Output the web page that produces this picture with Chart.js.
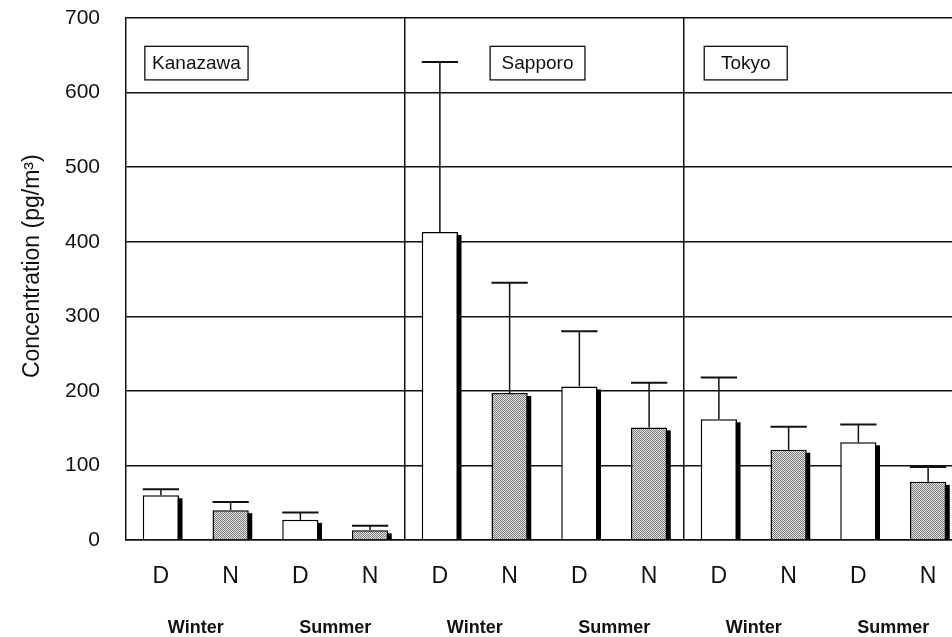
<!DOCTYPE html>
<html>
<head>
<meta charset="utf-8">
<title>Concentration by site, season and time of day</title>
<script src="https://cdn.jsdelivr.net/npm/chart.js@4/dist/chart.umd.min.js"></script>
<style>
  html, body { margin: 0; padding: 0; background: #fff; overflow: hidden; }
  #wrap { width: 952px; height: 637px; overflow: hidden; }
  canvas { display: block; }
</style>
</head>
<body>
<div id="wrap"><canvas id="chart" width="972" height="637"></canvas></div>
<script>
// Day (D) / night (N) samples, winter and summer, at three sites
const periods = ['D', 'N', 'D', 'N', 'D', 'N', 'D', 'N', 'D', 'N', 'D', 'N'];
const seasons = ['Winter', 'Summer', 'Winter', 'Summer', 'Winter', 'Summer'];
const sites = ['Kanazawa', 'Sapporo', 'Tokyo'];
// mean concentration (pg/m3)
const means = [60, 40, 27, 13, 413, 197, 206, 151, 162, 121, 131, 78];
// mean + standard deviation (top of the whisker)
const upper = [68, 51, 37, 19, 641, 345, 280, 211, 218, 152, 155, 98];
const yTicks = [0, 100, 200, 300, 400, 500, 600, 700];

const FONT = '"Liberation Sans", Arial, Helvetica, sans-serif';
const INK = '#111';

// halftone fill for the night bars
function halftone() {
  const c = document.createElement('canvas');
  c.width = 2; c.height = 2;
  const g = c.getContext('2d');
  g.fillStyle = '#e6e6e6'; g.fillRect(0, 0, 2, 2);
  g.fillStyle = '#7a7a7a'; g.fillRect(0, 0, 1, 1); g.fillRect(1, 1, 1, 1);
  return g.createPattern(c, 'repeat');
}
const nightFill = halftone();

// site name boxes, placed in category / value units
const siteBoxes = [
  { text: sites[0], c0: -0.23, c1: 1.25 },
  { text: sites[1], c0: 4.72, c1: 6.08 },
  { text: sites[2], c0: 7.79, c1: 8.98 }
];
const boxTop = 662, boxBottom = 617;

// keep the plot area exactly where the axes put it
function noScalePadding(scale) {
  scale.paddingTop = 0;
  scale.paddingBottom = 0;
  scale.paddingLeft = 0;
  scale.paddingRight = 0;
}

const barShadow = {
  id: 'barShadow',
  beforeDatasetsDraw(chart) {
    const ctx = chart.ctx;
    const meta = chart.getDatasetMeta(0);
    ctx.save();
    ctx.fillStyle = '#000';
    meta.data.forEach(bar => {
      const w = bar.width;
      ctx.fillRect(bar.x - w / 2 + 3.5, bar.y + 3, w, bar.base - bar.y - 3);
    });
    ctx.restore();
  }
};

const whiskers = {
  id: 'whiskers',
  afterDatasetsDraw(chart) {
    const ctx = chart.ctx;
    const y = chart.scales.y;
    const meta = chart.getDatasetMeta(0);
    ctx.save();
    ctx.strokeStyle = INK;
    meta.data.forEach((bar, i) => {
      const top = y.getPixelForValue(upper[i]);
      const half = bar.width / 2;
      ctx.lineWidth = 1.5;
      ctx.beginPath();
      ctx.moveTo(bar.x, bar.y);
      ctx.lineTo(bar.x, top);
      ctx.stroke();
      ctx.lineWidth = 2;
      ctx.beginPath();
      ctx.moveTo(bar.x - half, top);
      ctx.lineTo(bar.x + half, top);
      ctx.stroke();
    });
    ctx.restore();
  }
};

const siteLabels = {
  id: 'siteLabels',
  afterDraw(chart) {
    const ctx = chart.ctx;
    const x = chart.scales.x, y = chart.scales.y;
    ctx.save();
    ctx.font = '19px ' + FONT;
    ctx.textAlign = 'center';
    ctx.textBaseline = 'middle';
    siteBoxes.forEach(b => {
      const x0 = x.getPixelForValue(b.c0), x1 = x.getPixelForValue(b.c1);
      const y0 = y.getPixelForValue(boxTop), y1 = y.getPixelForValue(boxBottom);
      ctx.fillStyle = '#fff';
      ctx.fillRect(x0, y0, x1 - x0, y1 - y0);
      ctx.strokeStyle = INK;
      ctx.lineWidth = 1.3;
      ctx.strokeRect(x0, y0, x1 - x0, y1 - y0);
      ctx.fillStyle = INK;
      ctx.fillText(b.text, (x0 + x1) / 2, (y0 + y1) / 2 + 1);
    });
    ctx.restore();
  }
};

new Chart(document.getElementById('chart'), {
  type: 'bar',
  data: {
    labels: periods,
    datasets: [{
      data: means,
      backgroundColor: ctx => periods[ctx.dataIndex] === 'N' ? nightFill : '#fff',
      borderColor: '#000',
      borderWidth: 1.5,
      borderSkipped: 'bottom',
      barPercentage: 0.52,
      categoryPercentage: 1.0
    }]
  },
  options: {
    responsive: false,
    devicePixelRatio: 1,
    animation: false,
    events: [],
    layout: { padding: { top: 18, right: 9, left: 0, bottom: 0 } },
    plugins: { legend: { display: false }, tooltip: { enabled: false } },
    scales: {
      x: {
        type: 'category',
        position: 'bottom',
        grid: {
          offset: true,
          drawTicks: false,
          color: ctx => (ctx.index === 4 || ctx.index === 8) ? INK : 'rgba(0,0,0,0)',
          lineWidth: 1.5
        },
        border: { display: true, color: INK, width: 1.5 },
        ticks: { color: INK, font: { family: FONT, size: 23 }, padding: 23, maxRotation: 0, autoSkip: false },
        afterFit(scale) { scale.height = 60; noScalePadding(scale); }
      },
      x2: {
        type: 'category',
        position: 'bottom',
        labels: seasons,
        offset: true,
        grid: { display: false, drawTicks: false },
        border: { display: false },
        ticks: { color: INK, font: { family: FONT, size: 18, weight: 'bold' }, padding: 17, maxRotation: 0, autoSkip: false },
        afterFit(scale) { scale.height = 37; noScalePadding(scale); }
      },
      y: {
        min: 0,
        max: 700,
        afterBuildTicks(scale) { scale.ticks = yTicks.map(v => ({ value: v })); },
        grid: { color: INK, lineWidth: 1.5, drawTicks: false },
        border: { display: true, color: INK, width: 1.5 },
        ticks: { color: INK, font: { family: FONT, size: 21 }, padding: 26 },
        title: {
          display: true,
          text: '\u00a0\u00a0\u00a0\u00a0Concentration (pg/m\u00b3)',
          color: INK,
          font: { family: FONT, size: 23 },
          padding: { top: 19, bottom: 0 }
        },
        afterFit(scale) { scale.width = 126; noScalePadding(scale); }
      }
    }
  },
  plugins: [barShadow, whiskers, siteLabels]
});
</script>
</body>
</html>
